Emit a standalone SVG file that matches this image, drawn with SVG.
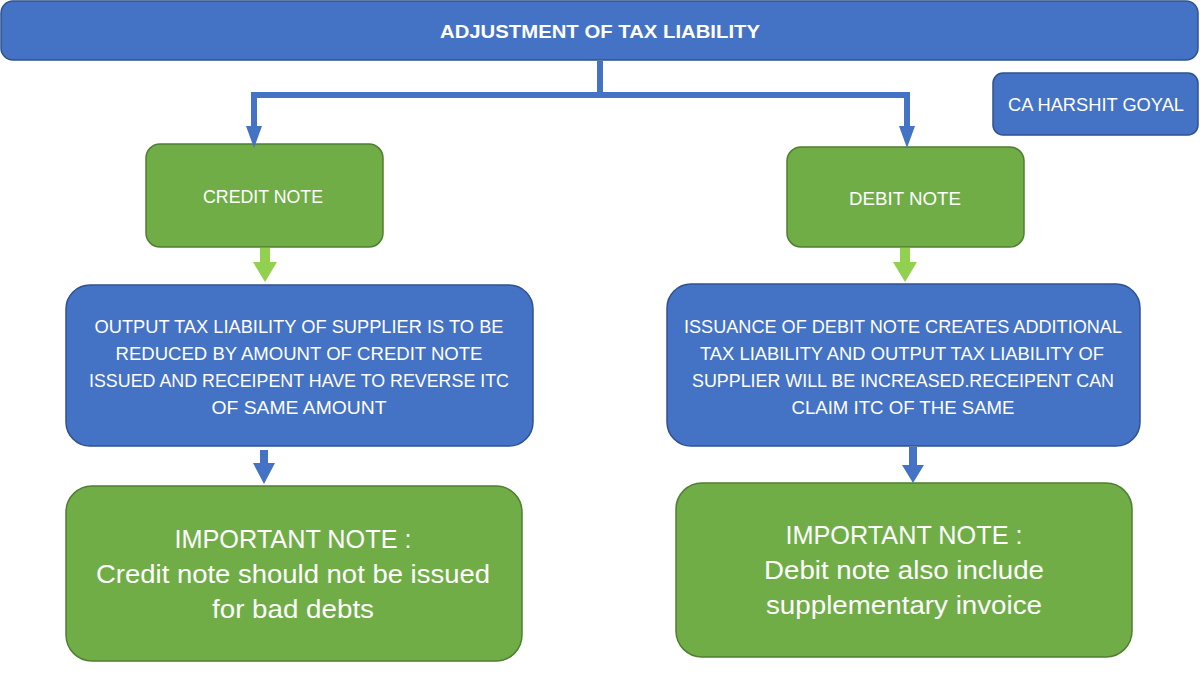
<svg xmlns="http://www.w3.org/2000/svg" width="1200" height="675" viewBox="0 0 1200 675">
<style>
.blue{fill:#4472C4;stroke:#2F528F;stroke-width:1.5}
.green{fill:#70AD47;stroke:#507E32;stroke-width:1.5}
text{font-family:"Liberation Sans",Arial,sans-serif;fill:#fff;text-anchor:middle}
.t{font-size:19px;font-weight:bold}
.s{font-size:19px}
.m{font-size:18.5px}
.b{font-size:26px}
</style>
<rect width="1200" height="675" fill="#fff"/>
<g id="title">
<rect class="blue" x="1" y="1" width="1197" height="59" rx="12"/>
<text class="t" x="600" y="38" textLength="320" lengthAdjust="spacingAndGlyphs">ADJUSTMENT OF TAX LIABILITY</text>
</g>
<g id="author">
<rect class="blue" x="993" y="73" width="205" height="62" rx="10"/>
<text class="s" x="1096" y="111" textLength="176" lengthAdjust="spacingAndGlyphs">CA HARSHIT GOYAL</text>
</g>
<g id="credit-note">
<rect class="green" x="146" y="144" width="237" height="103" rx="14"/>
<text class="s" x="263" y="203" textLength="120" lengthAdjust="spacingAndGlyphs">CREDIT NOTE</text>
</g>
<g id="debit-note">
<rect class="green" x="787" y="147" width="237" height="100" rx="14"/>
<text class="s" x="905" y="205" textLength="112" lengthAdjust="spacingAndGlyphs">DEBIT NOTE</text>
</g>
<g id="credit-effect">
<rect class="blue" x="66" y="285" width="467" height="161" rx="24"/>
<text class="m" x="299" y="333" textLength="409" lengthAdjust="spacingAndGlyphs">OUTPUT TAX LIABILITY OF SUPPLIER  IS TO BE</text>
<text class="m" x="299" y="360" textLength="367" lengthAdjust="spacingAndGlyphs">REDUCED BY AMOUNT OF CREDIT NOTE</text>
<text class="m" x="299" y="387" textLength="420" lengthAdjust="spacingAndGlyphs">ISSUED AND RECEIPENT HAVE TO REVERSE ITC</text>
<text class="m" x="299" y="414" textLength="175" lengthAdjust="spacingAndGlyphs">OF SAME AMOUNT</text>
</g>
<g id="debit-effect">
<rect class="blue" x="667" y="284" width="473" height="162" rx="24"/>
<text class="m" x="903" y="333" textLength="438" lengthAdjust="spacingAndGlyphs">ISSUANCE OF DEBIT NOTE CREATES ADDITIONAL</text>
<text class="m" x="902" y="360" textLength="404" lengthAdjust="spacingAndGlyphs">TAX LIABILITY AND OUTPUT TAX LIABILITY OF</text>
<text class="m" x="903" y="387" textLength="422" lengthAdjust="spacingAndGlyphs">SUPPLIER WILL BE INCREASED.RECEIPENT CAN</text>
<text class="m" x="903" y="414" textLength="223" lengthAdjust="spacingAndGlyphs">CLAIM ITC OF THE SAME</text>
</g>
<g id="credit-important">
<rect class="green" x="66" y="486" width="456" height="175" rx="26"/>
<text class="b" x="293" y="548" textLength="237" lengthAdjust="spacingAndGlyphs">IMPORTANT NOTE :</text>
<text class="b" x="293" y="583" textLength="394" lengthAdjust="spacingAndGlyphs">Credit note should not be issued</text>
<text class="b" x="293" y="618" textLength="162" lengthAdjust="spacingAndGlyphs">for bad debts</text>
</g>
<g id="debit-important">
<rect class="green" x="676" y="483" width="456" height="174" rx="26"/>
<text class="b" x="904" y="544" textLength="237" lengthAdjust="spacingAndGlyphs">IMPORTANT NOTE :</text>
<text class="b" x="904" y="579" textLength="280" lengthAdjust="spacingAndGlyphs">Debit note also include</text>
<text class="b" x="904" y="614" textLength="276" lengthAdjust="spacingAndGlyphs">supplementary invoice</text>
</g>
<g id="connectors">
<polyline points="600,61 600,95 254,95 254,128" fill="none" stroke="#4472C4" stroke-width="6"/>
<polyline points="600,95 907,95 907,128" fill="none" stroke="#4472C4" stroke-width="6"/>
<polygon points="246,126 262,126 254,148" fill="#4472C4"/>
<polygon points="899,126 915,126 907,148" fill="#4472C4"/>
<polygon points="260,248 270,248 270,262 277,262 265,282 253,262 260,262" fill="#92D050"/>
<polygon points="900,248 910,248 910,262 917,262 905,282 893,262 900,262" fill="#92D050"/>
<polygon points="260,450 268,450 268,463 275,463 264,484 253,463 260,463" fill="#4472C4"/>
<polygon points="909,447 917,447 917,465 924,465 913,483 902,465 909,465" fill="#4472C4"/>
</g>
</svg>
